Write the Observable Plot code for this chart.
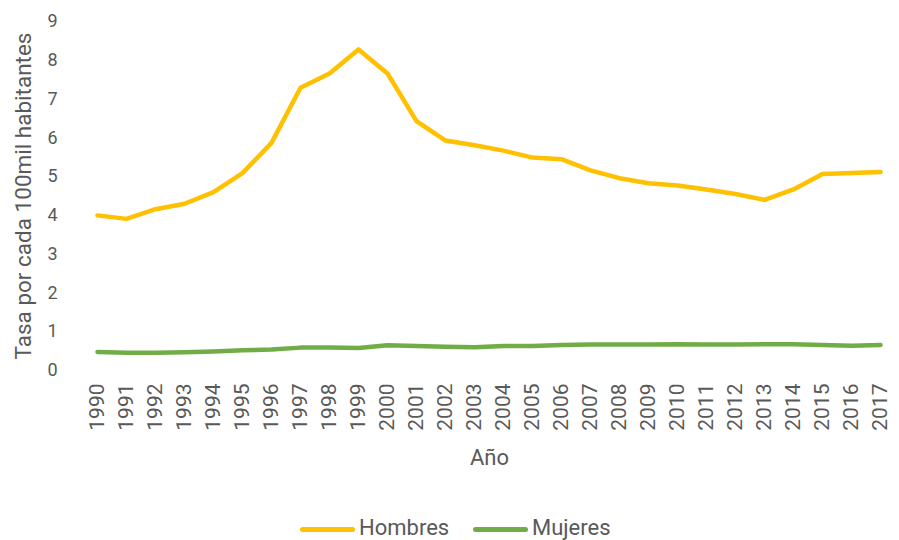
<!DOCTYPE html>
<html>
<head>
<meta charset="utf-8">
<script src="https://cdn.jsdelivr.net/npm/d3@7"></script>
<script src="https://cdn.jsdelivr.net/npm/@observablehq/plot@0.6"></script>
<style>
  html, body { margin: 0; padding: 0; background: #fff; overflow: hidden; }
  #wrap { position: relative; width: 899px; height: 540px; font-family: Roboto, sans-serif; }
  #chart svg { display: block; }
  #legend { position: absolute; left: 0; top: 515px; width: 899px; height: 25px; }
  .item { position: absolute; top: 0; height: 25px; line-height: 25px; display: flex; align-items: center; color: #595959; font-size: 22px; }
  .swatch { display: inline-block; width: 55px; height: 5px; border-radius: 3px; margin-right: 4px; margin-top: 3px; }
</style>
</head>
<body>
<div id="wrap">
  <div id="chart"></div>
  <div id="legend"></div>
</div>
<script>
// Homicide rate per 100k inhabitants, by sex
const years = ["1990","1991","1992","1993","1994","1995","1996","1997","1998","1999",
               "2000","2001","2002","2003","2004","2005","2006","2007","2008","2009",
               "2010","2011","2012","2013","2014","2015","2016","2017"];
const hombres = [4.00, 3.91, 4.16, 4.30, 4.60, 5.09, 5.87, 7.29, 7.66, 8.28,
                 7.66, 6.43, 5.93, 5.81, 5.67, 5.49, 5.45, 5.16, 4.96, 4.83,
                 4.77, 4.67, 4.55, 4.40, 4.67, 5.07, 5.09, 5.12];
const mujeres = [0.48, 0.46, 0.46, 0.47, 0.49, 0.52, 0.54, 0.59, 0.59, 0.58,
                 0.65, 0.63, 0.61, 0.60, 0.63, 0.63, 0.66, 0.67, 0.67, 0.67,
                 0.68, 0.67, 0.67, 0.68, 0.68, 0.66, 0.64, 0.66];
const seriesNames = ["Hombres", "Mujeres"];
const seriesColors = ["#FFC000", "#70AD47"];
const yTicks = [0, 1, 2, 3, 4, 5, 6, 7, 8, 9];
const yTitle = "Tasa por cada 100mil habitantes";
const xTitle = "Año";

const rows = [
  ...years.map((year, i) => ({year, value: hombres[i], serie: seriesNames[0]})),
  ...years.map((year, i) => ({year, value: mujeres[i], serie: seriesNames[1]}))
];

const textColor = "#595959";
const W = 899, H = 500, mLeft = 80, mRight = 1;
// one band per year across the plot area; points sit at band centres
const step = (W - mLeft - mRight) / years.length;

const chart = Plot.plot({
  width: W,
  height: H,
  marginLeft: mLeft,
  marginRight: mRight,
  marginTop: 21,
  marginBottom: 130,
  style: {fontFamily: "Roboto, sans-serif", color: textColor, background: "#fff"},
  x: {type: "point", domain: years, padding: 0, range: [mLeft + step / 2, W - mRight - step / 2]},
  y: {domain: [0, 9]},
  color: {domain: seriesNames, range: seriesColors},
  marks: [
    Plot.ruleY(yTicks, {stroke: "#D9D9D9", strokeWidth: 1.3, x1: () => mLeft, x2: () => W - mRight}),
    Plot.axisY({ticks: yTicks, tickSize: 0, tickPadding: 23, fontSize: 18, fill: textColor, label: null}),
    Plot.axisX({tickRotate: -90, tickSize: 0, tickPadding: 13, fontSize: 21, fill: textColor, label: null}),
    Plot.text([yTitle], {frameAnchor: "left", textAnchor: "middle", dx: -57, rotate: -90, fontSize: 22.5, fill: textColor}),
    Plot.text([xTitle], {frameAnchor: "bottom", dy: 94, fontSize: 22, fill: textColor}),
    Plot.line(rows, {x: "year", y: "value", z: "serie", stroke: "serie",
                     strokeWidth: 4.5, strokeLinejoin: "round", strokeLinecap: "round"})
  ]
});
document.getElementById("chart").appendChild(chart);

// Legend below the chart
const legend = document.getElementById("legend");
const legendX = [300, 473];
seriesNames.forEach((name, i) => {
  const item = document.createElement("div");
  item.className = "item";
  item.style.left = legendX[i] + "px";
  const sw = document.createElement("span");
  sw.className = "swatch";
  sw.style.background = seriesColors[i];
  item.appendChild(sw);
  item.appendChild(document.createTextNode(name));
  legend.appendChild(item);
});
</script>
</body>
</html>
